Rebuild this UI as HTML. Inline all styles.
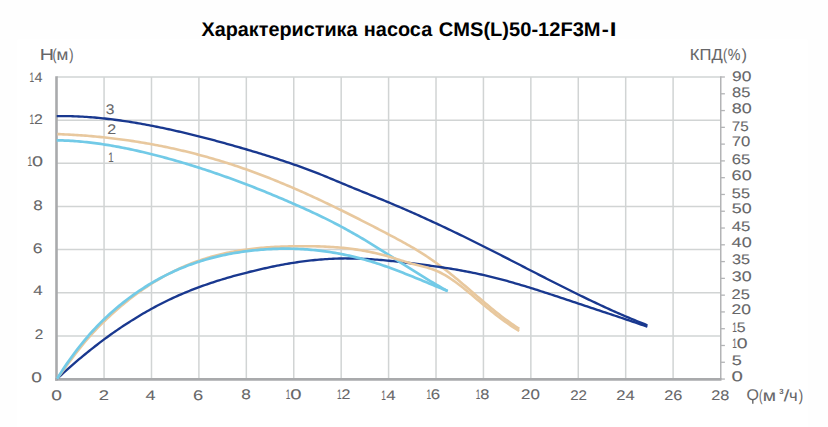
<!DOCTYPE html>
<html><head><meta charset="utf-8"><title>chart</title>
<style>html,body{margin:0;padding:0;background:#fff}body{width:828px;height:427px;overflow:hidden;position:relative;font-family:"Liberation Sans",sans-serif}</style></head>
<body>
<svg width="828" height="427" viewBox="0 0 828 427" style="position:absolute;left:0;top:0">
<rect width="828" height="427" fill="#fefefe"/><rect x="17.5" y="39.5" width="790" height="388" fill="#ffffff"/>
<g stroke="#d1d4d4" stroke-width="1.5" fill="none"><line x1="104.07" y1="77.0" x2="104.07" y2="379.05"/><line x1="151.49" y1="77.0" x2="151.49" y2="379.05"/><line x1="198.91" y1="77.0" x2="198.91" y2="379.05"/><line x1="246.33" y1="77.0" x2="246.33" y2="379.05"/><line x1="293.75" y1="77.0" x2="293.75" y2="379.05"/><line x1="341.17" y1="77.0" x2="341.17" y2="379.05"/><line x1="388.59" y1="77.0" x2="388.59" y2="379.05"/><line x1="436.01" y1="77.0" x2="436.01" y2="379.05"/><line x1="483.43" y1="77.0" x2="483.43" y2="379.05"/><line x1="530.85" y1="77.0" x2="530.85" y2="379.05"/><line x1="578.27" y1="77.0" x2="578.27" y2="379.05"/><line x1="625.69" y1="77.0" x2="625.69" y2="379.05"/><line x1="673.11" y1="77.0" x2="673.11" y2="379.05"/><line x1="56.65" y1="335.90" x2="720.53" y2="335.90"/><line x1="56.65" y1="292.75" x2="720.53" y2="292.75"/><line x1="56.65" y1="249.60" x2="720.53" y2="249.60"/><line x1="56.65" y1="206.45" x2="720.53" y2="206.45"/><line x1="56.65" y1="163.30" x2="720.53" y2="163.30"/><line x1="56.65" y1="120.15" x2="720.53" y2="120.15"/><line x1="56.65" y1="77.00" x2="720.53" y2="77.00"/></g>
<g stroke="#b3b4b6" stroke-width="1.5" fill="none"><line x1="720.75" y1="76.3" x2="720.75" y2="379.05"/><line x1="720.75" y1="77.00" x2="724.90" y2="77.00" stroke-width="1.3"/><line x1="720.75" y1="93.78" x2="724.90" y2="93.78" stroke-width="1.3"/><line x1="720.75" y1="110.56" x2="724.90" y2="110.56" stroke-width="1.3"/><line x1="720.75" y1="127.34" x2="724.90" y2="127.34" stroke-width="1.3"/><line x1="720.75" y1="144.12" x2="724.90" y2="144.12" stroke-width="1.3"/><line x1="720.75" y1="160.90" x2="724.90" y2="160.90" stroke-width="1.3"/><line x1="720.75" y1="177.68" x2="724.90" y2="177.68" stroke-width="1.3"/><line x1="720.75" y1="194.46" x2="724.90" y2="194.46" stroke-width="1.3"/><line x1="720.75" y1="211.24" x2="724.90" y2="211.24" stroke-width="1.3"/><line x1="720.75" y1="228.03" x2="724.90" y2="228.03" stroke-width="1.3"/><line x1="720.75" y1="244.81" x2="724.90" y2="244.81" stroke-width="1.3"/><line x1="720.75" y1="261.59" x2="724.90" y2="261.59" stroke-width="1.3"/><line x1="720.75" y1="278.37" x2="724.90" y2="278.37" stroke-width="1.3"/><line x1="720.75" y1="295.15" x2="724.90" y2="295.15" stroke-width="1.3"/><line x1="720.75" y1="311.93" x2="724.90" y2="311.93" stroke-width="1.3"/><line x1="720.75" y1="328.71" x2="724.90" y2="328.71" stroke-width="1.3"/><line x1="720.75" y1="345.49" x2="724.90" y2="345.49" stroke-width="1.3"/><line x1="720.75" y1="362.27" x2="724.90" y2="362.27" stroke-width="1.3"/><line x1="720.75" y1="379.05" x2="724.90" y2="379.05" stroke-width="1.3"/></g>
<line x1="56.5" y1="76.3" x2="56.5" y2="380.7" stroke="#a9aaac" stroke-width="2.6"/>
<line x1="55.2" y1="379.35" x2="721.5" y2="379.35" stroke="#a9aaac" stroke-width="2.7"/>
<path d="M57.3,134.10 L59.3,134.17 L61.3,134.25 L63.3,134.34 L65.3,134.43 L67.3,134.53 L69.3,134.63 L71.3,134.74 L73.3,134.85 L75.3,134.97 L77.3,135.10 L79.3,135.23 L81.3,135.37 L83.3,135.52 L85.3,135.67 L87.3,135.82 L89.3,135.99 L91.3,136.16 L93.3,136.33 L95.3,136.51 L97.3,136.70 L99.3,136.89 L101.3,137.09 L103.3,137.30 L105.3,137.51 L107.3,137.73 L109.3,137.96 L111.3,138.19 L113.3,138.43 L115.3,138.67 L117.3,138.92 L119.3,139.18 L121.3,139.44 L123.3,139.71 L125.3,139.98 L127.3,140.27 L129.3,140.56 L131.3,140.85 L133.3,141.15 L135.3,141.46 L137.3,141.78 L139.3,142.10 L141.3,142.43 L143.3,142.76 L145.3,143.10 L147.3,143.45 L149.3,143.81 L151.3,144.17 L153.3,144.54 L155.3,144.91 L157.3,145.29 L159.3,145.68 L161.3,146.08 L163.3,146.48 L165.3,146.89 L167.3,147.30 L169.3,147.73 L171.3,148.16 L173.3,148.59 L175.3,149.04 L177.3,149.49 L179.3,149.94 L181.3,150.41 L183.3,150.88 L185.3,151.36 L187.3,151.84 L189.3,152.34 L191.3,152.84 L193.3,153.34 L195.3,153.86 L197.3,154.38 L199.3,154.91 L201.3,155.44 L203.3,155.99 L205.3,156.54 L207.3,157.09 L209.3,157.66 L211.3,158.23 L213.3,158.81 L215.3,159.40 L217.3,159.99 L219.3,160.59 L221.3,161.20 L223.3,161.82 L225.3,162.44 L227.3,163.07 L229.3,163.71 L231.3,164.36 L233.3,165.01 L235.3,165.67 L237.3,166.34 L239.3,167.02 L241.3,167.70 L243.3,168.40 L245.3,169.10 L247.3,169.80 L249.3,170.52 L251.3,171.24 L253.3,171.97 L255.3,172.71 L257.3,173.45 L259.3,174.20 L261.3,174.96 L263.3,175.73 L265.3,176.50 L267.3,177.28 L269.3,178.07 L271.3,178.86 L273.3,179.66 L275.3,180.47 L277.3,181.28 L279.3,182.10 L281.3,182.93 L283.3,183.76 L285.3,184.60 L287.3,185.45 L289.3,186.30 L291.3,187.16 L293.3,188.02 L295.3,188.89 L297.3,189.76 L299.3,190.64 L301.3,191.53 L303.3,192.42 L305.3,193.31 L307.3,194.22 L309.3,195.12 L311.3,196.04 L313.3,196.95 L315.3,197.88 L317.3,198.80 L319.3,199.74 L321.3,200.67 L323.3,201.61 L325.3,202.56 L327.3,203.51 L329.3,204.47 L331.3,205.43 L333.3,206.39 L335.3,207.36 L337.3,208.33 L339.3,209.31 L341.3,210.29 L343.3,211.27 L345.3,212.26 L347.3,213.25 L349.3,214.25 L351.3,215.24 L353.3,216.25 L355.3,217.25 L357.3,218.26 L359.3,219.27 L361.3,220.29 L363.3,221.31 L365.3,222.33 L367.3,223.35 L369.3,224.38 L371.3,225.41 L373.3,226.44 L375.3,227.48 L377.3,228.52 L379.3,229.56 L381.3,230.60 L383.3,231.65 L385.3,232.69 L387.3,233.74 L389.3,234.79 L391.3,235.85 L393.3,236.91 L395.3,237.97 L397.3,239.04 L399.3,240.12 L401.3,241.20 L403.3,242.30 L405.3,243.41 L407.3,244.53 L409.3,245.67 L411.3,246.82 L413.3,247.99 L415.3,249.18 L417.3,250.39 L419.3,251.62 L421.3,252.87 L423.3,254.15 L425.3,255.45 L427.3,256.77 L429.3,258.12 L431.3,259.48 L433.3,260.88 L435.3,262.29 L437.3,263.73 L439.3,265.19 L441.3,266.68 L443.3,268.18 L445.3,269.71 L447.3,271.27 L449.3,272.85 L451.3,274.45 L453.3,276.06 L455.3,277.70 L457.3,279.35 L459.3,281.02 L461.3,282.70 L463.3,284.39 L465.3,286.09 L467.3,287.80 L469.3,289.51 L471.3,291.23 L473.3,292.94 L475.3,294.66 L477.3,296.38 L479.3,298.09 L481.3,299.79 L483.3,301.49 L485.3,303.18 L487.3,304.86 L489.3,306.53 L491.3,308.18 L493.3,309.81 L495.3,311.43 L497.3,313.03 L499.3,314.60 L501.3,316.16 L503.3,317.68 L505.3,319.18 L507.3,320.65 L509.3,322.09 L511.3,323.50 L513.3,324.87 L515.3,326.21 L517.3,327.51 L519.3,328.77" stroke="#e8c89e" stroke-width="2.6" fill="none" stroke-linecap="butt" stroke-linejoin="round"/>
<path d="M57.1,378.74 L59.1,376.89 L61.1,375.05 L63.1,373.22 L65.1,371.41 L67.1,369.62 L69.1,367.85 L71.1,366.09 L73.1,364.35 L75.1,362.62 L77.1,360.91 L79.1,359.22 L81.1,357.54 L83.1,355.88 L85.1,354.23 L87.1,352.60 L89.1,350.99 L91.1,349.40 L93.1,347.82 L95.1,346.25 L97.1,344.71 L99.1,343.17 L101.1,341.66 L103.1,340.16 L105.1,338.68 L107.1,337.21 L109.1,335.76 L111.1,334.33 L113.1,332.91 L115.1,331.51 L117.1,330.12 L119.1,328.76 L121.1,327.40 L123.1,326.07 L125.1,324.75 L127.1,323.44 L129.1,322.15 L131.1,320.88 L133.1,319.63 L135.1,318.39 L137.1,317.16 L139.1,315.96 L141.1,314.76 L143.1,313.59 L145.1,312.43 L147.1,311.29 L149.1,310.16 L151.1,309.05 L153.1,307.96 L155.1,306.88 L157.1,305.82 L159.1,304.77 L161.1,303.74 L163.1,302.72 L165.1,301.73 L167.1,300.75 L169.1,299.78 L171.1,298.83 L173.1,297.90 L175.1,296.98 L177.1,296.08 L179.1,295.19 L181.1,294.32 L183.1,293.46 L185.1,292.62 L187.1,291.80 L189.1,290.99 L191.1,290.19 L193.1,289.41 L195.1,288.64 L197.1,287.88 L199.1,287.14 L201.1,286.41 L203.1,285.69 L205.1,284.99 L207.1,284.29 L209.1,283.61 L211.1,282.94 L213.1,282.28 L215.1,281.63 L217.1,280.99 L219.1,280.37 L221.1,279.75 L223.1,279.14 L225.1,278.54 L227.1,277.96 L229.1,277.38 L231.1,276.81 L233.1,276.24 L235.1,275.69 L237.1,275.14 L239.1,274.60 L241.1,274.07 L243.1,273.55 L245.1,273.03 L247.1,272.52 L249.1,272.01 L251.1,271.51 L253.1,271.02 L255.1,270.54 L257.1,270.06 L259.1,269.59 L261.1,269.13 L263.1,268.67 L265.1,268.23 L267.1,267.79 L269.1,267.35 L271.1,266.93 L273.1,266.52 L275.1,266.11 L277.1,265.71 L279.1,265.32 L281.1,264.94 L283.1,264.57 L285.1,264.21 L287.1,263.86 L289.1,263.52 L291.1,263.19 L293.1,262.87 L295.1,262.56 L297.1,262.25 L299.1,261.96 L301.1,261.68 L303.1,261.41 L305.1,261.16 L307.1,260.91 L309.1,260.67 L311.1,260.45 L313.1,260.23 L315.1,260.03 L317.1,259.84 L319.1,259.66 L321.1,259.49 L323.1,259.34 L325.1,259.20 L327.1,259.06 L329.1,258.95 L331.1,258.84 L333.1,258.75 L335.1,258.66 L337.1,258.60 L339.1,258.54 L341.1,258.50 L343.1,258.47 L345.1,258.45 L347.1,258.45 L349.1,258.46 L351.1,258.48 L353.1,258.51 L355.1,258.55 L357.1,258.61 L359.1,258.67 L361.1,258.75 L363.1,258.84 L365.1,258.93 L367.1,259.04 L369.1,259.16 L371.1,259.28 L373.1,259.41 L375.1,259.55 L377.1,259.70 L379.1,259.86 L381.1,260.03 L383.1,260.20 L385.1,260.38 L387.1,260.57 L389.1,260.76 L391.1,260.96 L393.1,261.16 L395.1,261.37 L397.1,261.59 L399.1,261.81 L401.1,262.03 L403.1,262.26 L405.1,262.49 L407.1,262.73 L409.1,262.97 L411.1,263.21 L413.1,263.46 L415.1,263.71 L417.1,263.96 L419.1,264.21 L421.1,264.47 L423.1,264.72 L425.1,264.99 L427.1,265.25 L429.1,265.52 L431.1,265.79 L433.1,266.07 L435.1,266.35 L437.1,266.64 L439.1,266.93 L441.1,267.22 L443.1,267.52 L445.1,267.83 L447.1,268.14 L449.1,268.45 L451.1,268.78 L453.1,269.10 L455.1,269.44 L457.1,269.78 L459.1,270.13 L461.1,270.49 L463.1,270.85 L465.1,271.22 L467.1,271.60 L469.1,271.98 L471.1,272.38 L473.1,272.78 L475.1,273.19 L477.1,273.61 L479.1,274.04 L481.1,274.48 L483.1,274.92 L485.1,275.38 L487.1,275.85 L489.1,276.32 L491.1,276.81 L493.1,277.30 L495.1,277.81 L497.1,278.32 L499.1,278.84 L501.1,279.36 L503.1,279.90 L505.1,280.44 L507.1,280.99 L509.1,281.55 L511.1,282.11 L513.1,282.68 L515.1,283.26 L517.1,283.84 L519.1,284.43 L521.1,285.03 L523.1,285.63 L525.1,286.23 L527.1,286.85 L529.1,287.46 L531.1,288.08 L533.1,288.71 L535.1,289.34 L537.1,289.97 L539.1,290.61 L541.1,291.25 L543.1,291.89 L545.1,292.54 L547.1,293.19 L549.1,293.84 L551.1,294.50 L553.1,295.15 L555.1,295.81 L557.1,296.47 L559.1,297.14 L561.1,297.80 L563.1,298.47 L565.1,299.13 L567.1,299.80 L569.1,300.47 L571.1,301.13 L573.1,301.80 L575.1,302.47 L577.1,303.13 L579.1,303.80 L581.1,304.47 L583.1,305.13 L585.1,305.79 L587.1,306.46 L589.1,307.12 L591.1,307.78 L593.1,308.45 L595.1,309.11 L597.1,309.77 L599.1,310.44 L601.1,311.10 L603.1,311.76 L605.1,312.42 L607.1,313.09 L609.1,313.75 L611.1,314.42 L613.1,315.08 L615.1,315.75 L617.1,316.42 L619.1,317.09 L621.1,317.75 L623.1,318.43 L625.1,319.10 L627.1,319.77 L629.1,320.44 L631.1,321.12 L633.1,321.80 L635.1,322.48 L637.1,323.16 L639.1,323.84 L641.1,324.53 L643.1,325.21 L645.1,325.90 L647.1,326.60 L647.4,326.70" stroke="#19388f" stroke-width="2.35" fill="none" stroke-linecap="butt" stroke-linejoin="round"/>
<path d="M56.7,116.13 L58.7,116.10 L60.7,116.09 L62.7,116.09 L64.7,116.10 L66.7,116.12 L68.7,116.15 L70.7,116.20 L72.7,116.25 L74.7,116.32 L76.7,116.39 L78.7,116.48 L80.7,116.58 L82.7,116.69 L84.7,116.80 L86.7,116.93 L88.7,117.07 L90.7,117.22 L92.7,117.37 L94.7,117.54 L96.7,117.72 L98.7,117.90 L100.7,118.10 L102.7,118.30 L104.7,118.51 L106.7,118.74 L108.7,118.97 L110.7,119.20 L112.7,119.45 L114.7,119.71 L116.7,119.97 L118.7,120.24 L120.7,120.52 L122.7,120.81 L124.7,121.10 L126.7,121.40 L128.7,121.71 L130.7,122.03 L132.7,122.35 L134.7,122.68 L136.7,123.02 L138.7,123.36 L140.7,123.71 L142.7,124.07 L144.7,124.44 L146.7,124.81 L148.7,125.18 L150.7,125.56 L152.7,125.95 L154.7,126.34 L156.7,126.74 L158.7,127.15 L160.7,127.56 L162.7,127.97 L164.7,128.39 L166.7,128.82 L168.7,129.25 L170.7,129.69 L172.7,130.13 L174.7,130.58 L176.7,131.03 L178.7,131.49 L180.7,131.95 L182.7,132.41 L184.7,132.88 L186.7,133.36 L188.7,133.84 L190.7,134.33 L192.7,134.82 L194.7,135.31 L196.7,135.81 L198.7,136.31 L200.7,136.82 L202.7,137.33 L204.7,137.85 L206.7,138.36 L208.7,138.89 L210.7,139.42 L212.7,139.95 L214.7,140.48 L216.7,141.02 L218.7,141.56 L220.7,142.11 L222.7,142.66 L224.7,143.21 L226.7,143.77 L228.7,144.33 L230.7,144.89 L232.7,145.46 L234.7,146.03 L236.7,146.60 L238.7,147.17 L240.7,147.75 L242.7,148.33 L244.7,148.92 L246.7,149.50 L248.7,150.09 L250.7,150.69 L252.7,151.28 L254.7,151.88 L256.7,152.48 L258.7,153.09 L260.7,153.70 L262.7,154.31 L264.7,154.93 L266.7,155.55 L268.7,156.18 L270.7,156.81 L272.7,157.44 L274.7,158.08 L276.7,158.73 L278.7,159.38 L280.7,160.03 L282.7,160.69 L284.7,161.36 L286.7,162.03 L288.7,162.71 L290.7,163.39 L292.7,164.08 L294.7,164.78 L296.7,165.48 L298.7,166.19 L300.7,166.91 L302.7,167.63 L304.7,168.36 L306.7,169.10 L308.7,169.84 L310.7,170.60 L312.7,171.36 L314.7,172.13 L316.7,172.90 L318.7,173.69 L320.7,174.48 L322.7,175.28 L324.7,176.09 L326.7,176.91 L328.7,177.74 L330.7,178.58 L332.7,179.42 L334.7,180.26 L336.7,181.10 L338.7,181.94 L340.7,182.79 L342.7,183.62 L344.7,184.45 L346.7,185.28 L348.7,186.11 L350.7,186.93 L352.7,187.75 L354.7,188.56 L356.7,189.38 L358.7,190.19 L360.7,191.00 L362.7,191.81 L364.7,192.62 L366.7,193.43 L368.7,194.24 L370.7,195.05 L372.7,195.86 L374.7,196.68 L376.7,197.49 L378.7,198.31 L380.7,199.13 L382.7,199.95 L384.7,200.77 L386.7,201.60 L388.7,202.43 L390.7,203.27 L392.7,204.11 L394.7,204.96 L396.7,205.81 L398.7,206.67 L400.7,207.52 L402.7,208.39 L404.7,209.25 L406.7,210.13 L408.7,211.00 L410.7,211.88 L412.7,212.76 L414.7,213.65 L416.7,214.54 L418.7,215.44 L420.7,216.34 L422.7,217.24 L424.7,218.15 L426.7,219.06 L428.7,219.97 L430.7,220.89 L432.7,221.81 L434.7,222.74 L436.7,223.67 L438.7,224.60 L440.7,225.54 L442.7,226.48 L444.7,227.42 L446.7,228.37 L448.7,229.32 L450.7,230.27 L452.7,231.23 L454.7,232.19 L456.7,233.15 L458.7,234.11 L460.7,235.08 L462.7,236.06 L464.7,237.03 L466.7,238.01 L468.7,238.99 L470.7,239.98 L472.7,240.96 L474.7,241.95 L476.7,242.95 L478.7,243.94 L480.7,244.94 L482.7,245.94 L484.7,246.95 L486.7,247.95 L488.7,248.96 L490.7,249.97 L492.7,250.99 L494.7,252.00 L496.7,253.02 L498.7,254.04 L500.7,255.06 L502.7,256.08 L504.7,257.10 L506.7,258.13 L508.7,259.16 L510.7,260.18 L512.7,261.21 L514.7,262.24 L516.7,263.27 L518.7,264.30 L520.7,265.33 L522.7,266.36 L524.7,267.39 L526.7,268.42 L528.7,269.45 L530.7,270.48 L532.7,271.51 L534.7,272.54 L536.7,273.56 L538.7,274.59 L540.7,275.62 L542.7,276.64 L544.7,277.66 L546.7,278.69 L548.7,279.71 L550.7,280.72 L552.7,281.74 L554.7,282.76 L556.7,283.77 L558.7,284.78 L560.7,285.79 L562.7,286.79 L564.7,287.80 L566.7,288.80 L568.7,289.79 L570.7,290.79 L572.7,291.78 L574.7,292.76 L576.7,293.75 L578.7,294.73 L580.7,295.71 L582.7,296.68 L584.7,297.65 L586.7,298.61 L588.7,299.57 L590.7,300.53 L592.7,301.48 L594.7,302.43 L596.7,303.37 L598.7,304.31 L600.7,305.24 L602.7,306.17 L604.7,307.09 L606.7,308.00 L608.7,308.91 L610.7,309.82 L612.7,310.72 L614.7,311.61 L616.7,312.50 L618.7,313.38 L620.7,314.25 L622.7,315.12 L624.7,315.98 L626.7,316.83 L628.7,317.68 L630.7,318.52 L632.7,319.35 L634.7,320.18 L636.7,321.00 L638.7,321.81 L640.7,322.61 L642.7,323.41 L644.7,324.19 L646.7,324.97 L647.4,325.24" stroke="#19388f" stroke-width="2.35" fill="none" stroke-linecap="butt" stroke-linejoin="round"/>
<path d="M56.7,140.31 L58.7,140.35 L60.7,140.39 L62.7,140.46 L64.7,140.53 L66.7,140.62 L68.7,140.72 L70.7,140.83 L72.7,140.96 L74.7,141.10 L76.7,141.25 L78.7,141.41 L80.7,141.58 L82.7,141.77 L84.7,141.97 L86.7,142.18 L88.7,142.40 L90.7,142.63 L92.7,142.87 L94.7,143.13 L96.7,143.39 L98.7,143.66 L100.7,143.95 L102.7,144.24 L104.7,144.55 L106.7,144.86 L108.7,145.19 L110.7,145.52 L112.7,145.87 L114.7,146.22 L116.7,146.58 L118.7,146.95 L120.7,147.33 L122.7,147.72 L124.7,148.12 L126.7,148.53 L128.7,148.94 L130.7,149.36 L132.7,149.79 L134.7,150.23 L136.7,150.67 L138.7,151.12 L140.7,151.58 L142.7,152.05 L144.7,152.52 L146.7,153.00 L148.7,153.49 L150.7,153.98 L152.7,154.48 L154.7,154.99 L156.7,155.50 L158.7,156.02 L160.7,156.54 L162.7,157.07 L164.7,157.61 L166.7,158.15 L168.7,158.70 L170.7,159.26 L172.7,159.82 L174.7,160.38 L176.7,160.96 L178.7,161.54 L180.7,162.12 L182.7,162.71 L184.7,163.31 L186.7,163.91 L188.7,164.52 L190.7,165.13 L192.7,165.75 L194.7,166.37 L196.7,167.00 L198.7,167.64 L200.7,168.28 L202.7,168.93 L204.7,169.58 L206.7,170.24 L208.7,170.90 L210.7,171.57 L212.7,172.25 L214.7,172.93 L216.7,173.61 L218.7,174.31 L220.7,175.00 L222.7,175.70 L224.7,176.41 L226.7,177.12 L228.7,177.84 L230.7,178.56 L232.7,179.29 L234.7,180.02 L236.7,180.76 L238.7,181.51 L240.7,182.25 L242.7,183.01 L244.7,183.77 L246.7,184.53 L248.7,185.30 L250.7,186.07 L252.7,186.85 L254.7,187.63 L256.7,188.42 L258.7,189.22 L260.7,190.01 L262.7,190.82 L264.7,191.62 L266.7,192.44 L268.7,193.25 L270.7,194.07 L272.7,194.90 L274.7,195.73 L276.7,196.57 L278.7,197.41 L280.7,198.25 L282.7,199.10 L284.7,199.96 L286.7,200.81 L288.7,201.68 L290.7,202.54 L292.7,203.42 L294.7,204.29 L296.7,205.17 L298.7,206.06 L300.7,206.95 L302.7,207.84 L304.7,208.75 L306.7,209.65 L308.7,210.57 L310.7,211.49 L312.7,212.42 L314.7,213.35 L316.7,214.30 L318.7,215.25 L320.7,216.21 L322.7,217.18 L324.7,218.15 L326.7,219.14 L328.7,220.14 L330.7,221.15 L332.7,222.16 L334.7,223.19 L336.7,224.23 L338.7,225.28 L340.7,226.34 L342.7,227.42 L344.7,228.50 L346.7,229.60 L348.7,230.71 L350.7,231.83 L352.7,232.96 L354.7,234.10 L356.7,235.25 L358.7,236.41 L360.7,237.59 L362.7,238.77 L364.7,239.96 L366.7,241.16 L368.7,242.37 L370.7,243.59 L372.7,244.82 L374.7,246.05 L376.7,247.29 L378.7,248.54 L380.7,249.80 L382.7,251.06 L384.7,252.32 L386.7,253.59 L388.7,254.86 L390.7,256.14 L392.7,257.41 L394.7,258.69 L396.7,259.97 L398.7,261.26 L400.7,262.54 L402.7,263.82 L404.7,265.09 L406.7,266.37 L408.7,267.65 L410.7,268.92 L412.7,270.18 L414.7,271.45 L416.7,272.71 L418.7,273.96 L420.7,275.20 L422.7,276.44 L424.7,277.68 L426.7,278.90 L428.7,280.11 L430.7,281.32 L432.7,282.52 L434.7,283.70 L436.7,284.88 L438.7,286.04 L440.7,287.19 L442.7,288.33 L444.7,289.45 L446.7,290.56 L447.7,291.11" stroke="#72cae7" stroke-width="2.7" fill="none" stroke-linecap="butt" stroke-linejoin="round"/>
<path d="M57.1,378.78 L59.1,376.01 L61.1,373.25 L63.1,370.49 L65.1,367.74 L67.1,365.01 L69.1,362.30 L71.1,359.61 L73.1,356.94 L75.1,354.31 L77.1,351.71 L79.1,349.15 L81.1,346.64 L83.1,344.17 L85.1,341.76 L87.1,339.40 L89.1,337.10 L91.1,334.86 L93.1,332.67 L95.1,330.54 L97.1,328.45 L99.1,326.40 L101.1,324.40 L103.1,322.43 L105.1,320.49 L107.1,318.59 L109.1,316.71 L111.1,314.87 L113.1,313.05 L115.1,311.27 L117.1,309.51 L119.1,307.78 L121.1,306.09 L123.1,304.42 L125.1,302.78 L127.1,301.17 L129.1,299.58 L131.1,298.03 L133.1,296.50 L135.1,295.00 L137.1,293.53 L139.1,292.09 L141.1,290.67 L143.1,289.28 L145.1,287.92 L147.1,286.58 L149.1,285.27 L151.1,283.99 L153.1,282.73 L155.1,281.50 L157.1,280.30 L159.1,279.12 L161.1,277.97 L163.1,276.84 L165.1,275.73 L167.1,274.65 L169.1,273.60 L171.1,272.57 L173.1,271.57 L175.1,270.58 L177.1,269.63 L179.1,268.69 L181.1,267.79 L183.1,266.90 L185.1,266.04 L187.1,265.20 L189.1,264.38 L191.1,263.58 L193.1,262.81 L195.1,262.06 L197.1,261.33 L199.1,260.63 L201.1,259.94 L203.1,259.28 L205.1,258.64 L207.1,258.02 L209.1,257.42 L211.1,256.84 L213.1,256.28 L215.1,255.74 L217.1,255.21 L219.1,254.71 L221.1,254.23 L223.1,253.76 L225.1,253.31 L227.1,252.88 L229.1,252.46 L231.1,252.07 L233.1,251.69 L235.1,251.32 L237.1,250.97 L239.1,250.64 L241.1,250.32 L243.1,250.02 L245.1,249.73 L247.1,249.45 L249.1,249.19 L251.1,248.95 L253.1,248.71 L255.1,248.49 L257.1,248.28 L259.1,248.09 L261.1,247.90 L263.1,247.73 L265.1,247.57 L267.1,247.42 L269.1,247.28 L271.1,247.15 L273.1,247.03 L275.1,246.92 L277.1,246.82 L279.1,246.73 L281.1,246.65 L283.1,246.58 L285.1,246.51 L287.1,246.45 L289.1,246.40 L291.1,246.36 L293.1,246.32 L295.1,246.29 L297.1,246.27 L299.1,246.25 L301.1,246.23 L303.1,246.23 L305.1,246.23 L307.1,246.23 L309.1,246.24 L311.1,246.26 L313.1,246.29 L315.1,246.32 L317.1,246.37 L319.1,246.42 L321.1,246.48 L323.1,246.55 L325.1,246.63 L327.1,246.72 L329.1,246.83 L331.1,246.94 L333.1,247.07 L335.1,247.21 L337.1,247.36 L339.1,247.53 L341.1,247.71 L343.1,247.90 L345.1,248.11 L347.1,248.33 L349.1,248.56 L351.1,248.82 L353.1,249.08 L355.1,249.36 L357.1,249.66 L359.1,249.97 L361.1,250.30 L363.1,250.65 L365.1,251.01 L367.1,251.39 L369.1,251.78 L371.1,252.19 L373.1,252.62 L375.1,253.07 L377.1,253.53 L379.1,254.01 L381.1,254.51 L383.1,255.03 L385.1,255.56 L387.1,256.12 L389.1,256.69 L391.1,257.28 L393.1,257.88 L395.1,258.50 L397.1,259.12 L399.1,259.75 L401.1,260.38 L403.1,261.00 L405.1,261.62 L407.1,262.24 L409.1,262.83 L411.1,263.42 L413.1,263.98 L415.1,264.52 L417.1,265.03 L419.1,265.53 L421.1,266.03 L423.1,266.53 L425.1,267.05 L427.1,267.59 L429.1,268.18 L431.1,268.81 L433.1,269.49 L435.1,270.25 L437.1,271.09 L439.1,272.01 L441.1,273.00 L443.1,274.07 L445.1,275.20 L447.1,276.40 L449.1,277.66 L451.1,278.98 L453.1,280.35 L455.1,281.76 L457.1,283.22 L459.1,284.73 L461.1,286.26 L463.1,287.84 L465.1,289.43 L467.1,291.06 L469.1,292.70 L471.1,294.36 L473.1,296.03 L475.1,297.71 L477.1,299.39 L479.1,301.07 L481.1,302.75 L483.1,304.42 L485.1,306.08 L487.1,307.73 L489.1,309.36 L491.1,310.97 L493.1,312.56 L495.1,314.13 L497.1,315.68 L499.1,317.21 L501.1,318.71 L503.1,320.19 L505.1,321.64 L507.1,323.05 L509.1,324.44 L511.1,325.80 L513.1,327.12 L515.1,328.40 L517.1,329.65 L519.1,330.86 L519.3,330.98" stroke="#e8c89e" stroke-width="2.6" fill="none" stroke-linecap="butt" stroke-linejoin="round"/>
<path d="M57.1,378.75 L59.1,375.53 L61.1,372.39 L63.1,369.32 L65.1,366.31 L67.1,363.37 L69.1,360.49 L71.1,357.67 L73.1,354.92 L75.1,352.22 L77.1,349.59 L79.1,347.01 L81.1,344.49 L83.1,342.03 L85.1,339.62 L87.1,337.26 L89.1,334.96 L91.1,332.71 L93.1,330.51 L95.1,328.35 L97.1,326.24 L99.1,324.18 L101.1,322.17 L103.1,320.20 L105.1,318.27 L107.1,316.38 L109.1,314.54 L111.1,312.73 L113.1,310.96 L115.1,309.23 L117.1,307.53 L119.1,305.87 L121.1,304.24 L123.1,302.64 L125.1,301.07 L127.1,299.54 L129.1,298.03 L131.1,296.55 L133.1,295.10 L135.1,293.68 L137.1,292.29 L139.1,290.93 L141.1,289.59 L143.1,288.28 L145.1,287.00 L147.1,285.74 L149.1,284.51 L151.1,283.31 L153.1,282.14 L155.1,280.98 L157.1,279.86 L159.1,278.76 L161.1,277.69 L163.1,276.64 L165.1,275.61 L167.1,274.61 L169.1,273.63 L171.1,272.68 L173.1,271.75 L175.1,270.84 L177.1,269.95 L179.1,269.09 L181.1,268.25 L183.1,267.43 L185.1,266.64 L187.1,265.86 L189.1,265.11 L191.1,264.37 L193.1,263.66 L195.1,262.97 L197.1,262.30 L199.1,261.64 L201.1,261.01 L203.1,260.40 L205.1,259.80 L207.1,259.22 L209.1,258.67 L211.1,258.12 L213.1,257.60 L215.1,257.10 L217.1,256.61 L219.1,256.14 L221.1,255.68 L223.1,255.25 L225.1,254.82 L227.1,254.42 L229.1,254.03 L231.1,253.65 L233.1,253.29 L235.1,252.95 L237.1,252.62 L239.1,252.30 L241.1,252.00 L243.1,251.71 L245.1,251.43 L247.1,251.17 L249.1,250.92 L251.1,250.69 L253.1,250.46 L255.1,250.25 L257.1,250.05 L259.1,249.87 L261.1,249.70 L263.1,249.54 L265.1,249.39 L267.1,249.26 L269.1,249.14 L271.1,249.04 L273.1,248.95 L275.1,248.87 L277.1,248.80 L279.1,248.75 L281.1,248.72 L283.1,248.69 L285.1,248.68 L287.1,248.68 L289.1,248.70 L291.1,248.73 L293.1,248.77 L295.1,248.83 L297.1,248.90 L299.1,248.99 L301.1,249.08 L303.1,249.20 L305.1,249.32 L307.1,249.46 L309.1,249.62 L311.1,249.79 L313.1,249.97 L315.1,250.17 L317.1,250.38 L319.1,250.60 L321.1,250.84 L323.1,251.09 L325.1,251.36 L327.1,251.64 L329.1,251.94 L331.1,252.25 L333.1,252.57 L335.1,252.91 L337.1,253.27 L339.1,253.63 L341.1,254.02 L343.1,254.41 L345.1,254.82 L347.1,255.25 L349.1,255.69 L351.1,256.15 L353.1,256.62 L355.1,257.10 L357.1,257.60 L359.1,258.12 L361.1,258.65 L363.1,259.19 L365.1,259.75 L367.1,260.33 L369.1,260.91 L371.1,261.52 L373.1,262.14 L375.1,262.77 L377.1,263.42 L379.1,264.08 L381.1,264.75 L383.1,265.44 L385.1,266.14 L387.1,266.84 L389.1,267.56 L391.1,268.29 L393.1,269.03 L395.1,269.78 L397.1,270.54 L399.1,271.30 L401.1,272.07 L403.1,272.85 L405.1,273.64 L407.1,274.43 L409.1,275.23 L411.1,276.03 L413.1,276.84 L415.1,277.65 L417.1,278.47 L419.1,279.28 L421.1,280.11 L423.1,280.93 L425.1,281.75 L427.1,282.58 L429.1,283.40 L431.1,284.23 L433.1,285.06 L435.1,285.88 L437.1,286.70 L439.1,287.52 L441.1,288.34 L443.1,289.16 L445.1,289.97 L447.1,290.78 L447.7,291.02" stroke="#72cae7" stroke-width="2.7" fill="none" stroke-linecap="butt" stroke-linejoin="round"/>
<g font-family="Liberation Sans, sans-serif" text-rendering="geometricPrecision">
<text transform="translate(201.44,35.90) scale(1.0014,1)" font-size="19.8" fill="#000" font-weight="bold">Характеристика</text>
<text transform="translate(363.83,35.90) scale(1.0053,1)" font-size="19.8" fill="#000" font-weight="bold">насоса</text>
<text transform="translate(438.78,35.90) scale(1.0152,1)" font-size="19.8" fill="#000" font-weight="bold">CMS(L)50-12F3M</text>
<text transform="translate(601.67,35.90) scale(1.0737,1)" font-size="19.8" fill="#000" font-weight="bold">-</text>
<text transform="translate(609.81,35.90) scale(1.2191,1)" font-size="19.8" fill="#000" font-weight="bold">I</text>
<text transform="translate(39.69,60.00) scale(1.2299,1)" font-size="16" fill="#666668" stroke="#666668" stroke-width="0.08">H</text>
<text transform="translate(52.45,60.00) scale(0.7519,1)" font-size="16" fill="#666668" stroke="#666668" stroke-width="0.08">(</text>
<text transform="translate(56.62,60.00) scale(1.0682,1)" font-size="16" fill="#666668" stroke="#666668" stroke-width="0.08">м</text>
<text transform="translate(69.14,60.00) scale(0.7989,1)" font-size="16" fill="#666668" stroke="#666668" stroke-width="0.08">)</text>
<text transform="translate(689.84,60.00) scale(1.0350,1)" font-size="16" fill="#666668" stroke="#666668" stroke-width="0.08">КПД</text>
<text transform="translate(722.93,60.00) scale(0.7754,1)" font-size="16" fill="#666668" stroke="#666668" stroke-width="0.08">(</text>
<text transform="translate(727.80,60.00) scale(0.8929,1)" font-size="16" fill="#666668" stroke="#666668" stroke-width="0.08">%</text>
<text transform="translate(741.72,60.00) scale(0.9633,1)" font-size="16" fill="#666668" stroke="#666668" stroke-width="0.08">)</text>
<text transform="translate(29.57,81.60) scale(0.6039,1)" font-size="13.8" fill="#666668" stroke="#666668" stroke-width="0.08">1</text><text transform="translate(34.49,81.60) scale(1.0331,1)" font-size="13.8" fill="#666668" stroke="#666668" stroke-width="0.08">4</text>
<text transform="translate(29.57,123.90) scale(0.6039,1)" font-size="13.8" fill="#666668" stroke="#666668" stroke-width="0.08">1</text><text transform="translate(34.01,123.90) scale(1.1442,1)" font-size="13.8" fill="#666668" stroke="#666668" stroke-width="0.08">2</text>
<text transform="translate(27.57,166.20) scale(0.6039,1)" font-size="13.8" fill="#666668" stroke="#666668" stroke-width="0.08">1</text><text transform="translate(32.03,166.20) scale(1.4372,1)" font-size="13.8" fill="#666668" stroke="#666668" stroke-width="0.08">0</text>
<text transform="translate(33.27,209.60) scale(1.2334,1)" font-size="13.8" fill="#666668" stroke="#666668" stroke-width="0.08">8</text>
<text transform="translate(32.73,253.10) scale(1.2677,1)" font-size="13.8" fill="#666668" stroke="#666668" stroke-width="0.08">6</text>
<text transform="translate(33.13,295.00) scale(1.2197,1)" font-size="13.8" fill="#666668" stroke="#666668" stroke-width="0.08">4</text>
<text transform="translate(34.83,339.40) scale(1.1124,1)" font-size="13.8" fill="#666668" stroke="#666668" stroke-width="0.08">2</text>
<text transform="translate(31.35,381.50) scale(1.3918,1)" font-size="13.8" fill="#666668" stroke="#666668" stroke-width="0.08">0</text>
<text transform="translate(51.35,399.70) scale(1.3918,1)" font-size="13.8" fill="#666668" stroke="#666668" stroke-width="0.08">0</text>
<text transform="translate(98.68,400.00) scale(1.3349,1)" font-size="13.8" fill="#666668" stroke="#666668" stroke-width="0.08">2</text>
<text transform="translate(145.50,400.00) scale(1.3058,1)" font-size="13.8" fill="#666668" stroke="#666668" stroke-width="0.08">4</text>
<text transform="translate(192.98,399.70) scale(1.3303,1)" font-size="13.8" fill="#666668" stroke="#666668" stroke-width="0.08">6</text>
<text transform="translate(241.16,399.30) scale(1.2488,1)" font-size="13.8" fill="#666668" stroke="#666668" stroke-width="0.08">8</text>
<text transform="translate(285.77,399.30) scale(0.6039,1)" font-size="13.8" fill="#666668" stroke="#666668" stroke-width="0.08">1</text><text transform="translate(290.21,399.30) scale(1.4674,1)" font-size="13.8" fill="#666668" stroke="#666668" stroke-width="0.08">0</text>
<text transform="translate(336.97,399.30) scale(0.6039,1)" font-size="13.8" fill="#666668" stroke="#666668" stroke-width="0.08">1</text><text transform="translate(341.40,399.30) scale(1.1601,1)" font-size="13.8" fill="#666668" stroke="#666668" stroke-width="0.08">2</text>
<text transform="translate(381.27,400.20) scale(0.6039,1)" font-size="13.8" fill="#666668" stroke="#666668" stroke-width="0.08">1</text><text transform="translate(386.13,400.20) scale(1.2197,1)" font-size="13.8" fill="#666668" stroke="#666668" stroke-width="0.08">4</text>
<text transform="translate(426.47,399.30) scale(0.6039,1)" font-size="13.8" fill="#666668" stroke="#666668" stroke-width="0.08">1</text><text transform="translate(430.86,399.30) scale(1.2208,1)" font-size="13.8" fill="#666668" stroke="#666668" stroke-width="0.08">6</text>
<text transform="translate(475.77,399.30) scale(0.6039,1)" font-size="13.8" fill="#666668" stroke="#666668" stroke-width="0.08">1</text><text transform="translate(480.30,399.30) scale(1.1872,1)" font-size="13.8" fill="#666668" stroke="#666668" stroke-width="0.08">8</text>
<text transform="translate(521.06,399.30) scale(1.2242,1)" font-size="13.8" fill="#666668" stroke="#666668" stroke-width="0.08">20</text>
<text transform="translate(570.14,400.20) scale(1.0955,1)" font-size="13.8" fill="#666668" stroke="#666668" stroke-width="0.08">22</text>
<text transform="translate(616.27,399.70) scale(1.1995,1)" font-size="13.8" fill="#666668" stroke="#666668" stroke-width="0.08">24</text>
<text transform="translate(664.29,399.70) scale(1.1805,1)" font-size="13.8" fill="#666668" stroke="#666668" stroke-width="0.08">26</text>
<text transform="translate(711.29,399.70) scale(1.1805,1)" font-size="13.8" fill="#666668" stroke="#666668" stroke-width="0.08">28</text>
<text transform="translate(732.00,81.30) scale(1.2618,1)" font-size="13.8" fill="#666668" stroke="#666668" stroke-width="0.08">90</text>
<text transform="translate(732.09,96.80) scale(1.1913,1)" font-size="13.8" fill="#666668" stroke="#666668" stroke-width="0.08">85</text>
<text transform="translate(731.73,112.50) scale(1.3003,1)" font-size="13.8" fill="#666668" stroke="#666668" stroke-width="0.08">80</text>
<text transform="translate(731.73,130.80) scale(1.1012,1)" font-size="13.8" fill="#666668" stroke="#666668" stroke-width="0.08">75</text>
<text transform="translate(731.65,145.80) scale(1.2113,1)" font-size="13.8" fill="#666668" stroke="#666668" stroke-width="0.08">70</text>
<text transform="translate(731.66,163.70) scale(1.2136,1)" font-size="13.8" fill="#666668" stroke="#666668" stroke-width="0.08">65</text>
<text transform="translate(731.60,179.50) scale(1.3092,1)" font-size="13.8" fill="#666668" stroke="#666668" stroke-width="0.08">60</text>
<text transform="translate(731.85,197.90) scale(1.1808,1)" font-size="13.8" fill="#666668" stroke="#666668" stroke-width="0.08">55</text>
<text transform="translate(731.78,213.40) scale(1.2965,1)" font-size="13.8" fill="#666668" stroke="#666668" stroke-width="0.08">50</text>
<text transform="translate(731.63,230.60) scale(1.2158,1)" font-size="13.8" fill="#666668" stroke="#666668" stroke-width="0.08">45</text>
<text transform="translate(731.60,247.20) scale(1.3088,1)" font-size="13.8" fill="#666668" stroke="#666668" stroke-width="0.08">40</text>
<text transform="translate(731.88,264.40) scale(1.1785,1)" font-size="13.8" fill="#666668" stroke="#666668" stroke-width="0.08">35</text>
<text transform="translate(731.82,280.90) scale(1.2940,1)" font-size="13.8" fill="#666668" stroke="#666668" stroke-width="0.08">30</text>
<text transform="translate(731.58,299.10) scale(1.1924,1)" font-size="13.8" fill="#666668" stroke="#666668" stroke-width="0.08">25</text>
<text transform="translate(731.53,313.60) scale(1.2667,1)" font-size="13.8" fill="#666668" stroke="#666668" stroke-width="0.08">20</text>
<text transform="translate(732.27,331.70) scale(0.6039,1)" font-size="13.8" fill="#666668" stroke="#666668" stroke-width="0.08">1</text><text transform="translate(736.87,331.70) scale(1.1442,1)" font-size="13.8" fill="#666668" stroke="#666668" stroke-width="0.08">5</text>
<text transform="translate(732.27,348.00) scale(0.6039,1)" font-size="13.8" fill="#666668" stroke="#666668" stroke-width="0.08">1</text><text transform="translate(736.74,348.00) scale(1.4069,1)" font-size="13.8" fill="#666668" stroke="#666668" stroke-width="0.08">0</text>
<text transform="translate(731.68,365.30) scale(1.3120,1)" font-size="13.8" fill="#666668" stroke="#666668" stroke-width="0.08">5</text>
<text transform="translate(731.60,381.10) scale(1.4826,1)" font-size="13.8" fill="#666668" stroke="#666668" stroke-width="0.08">0</text>
<text transform="translate(746.55,400.30) scale(1.0296,1)" font-size="15.5" fill="#666668" stroke="#666668" stroke-width="0.08">O</text>
<line x1="752.8" y1="399.3" x2="752.8" y2="403.8" stroke="#666668" stroke-width="1.4"/>
<text transform="translate(759.05,400.60) scale(0.6579,1)" font-size="16" fill="#666668" stroke="#666668" stroke-width="0.08">(</text>
<text transform="translate(762.67,400.60) scale(1.2045,1)" font-size="16" fill="#666668" stroke="#666668" stroke-width="0.08">м</text>
<text transform="translate(779.13,394.00) scale(1.0421,1)" font-size="7.5" fill="#666668" font-weight="bold">3</text>
<text transform="translate(783.70,400.60) scale(1.2365,1)" font-size="16" fill="#666668" stroke="#666668" stroke-width="0.08">/</text>
<text transform="translate(789.12,400.60) scale(1.0337,1)" font-size="16" fill="#666668" stroke="#666668" stroke-width="0.08">ч</text>
<text transform="translate(798.83,400.60) scale(0.8224,1)" font-size="16" fill="#666668" stroke="#666668" stroke-width="0.08">)</text>
<text transform="translate(105.71,114.20) scale(1.1289,1)" font-size="13.8" fill="#666668" stroke="#666668" stroke-width="0.08">3</text>
<text transform="translate(107.30,133.90) scale(1.1601,1)" font-size="13.8" fill="#666668" stroke="#666668" stroke-width="0.08">2</text>
<text transform="translate(108.26,162.20) scale(0.7045,1)" font-size="13.8" fill="#666668" stroke="#666668" stroke-width="0.08">1</text>
</g>
</svg>
</body></html>
